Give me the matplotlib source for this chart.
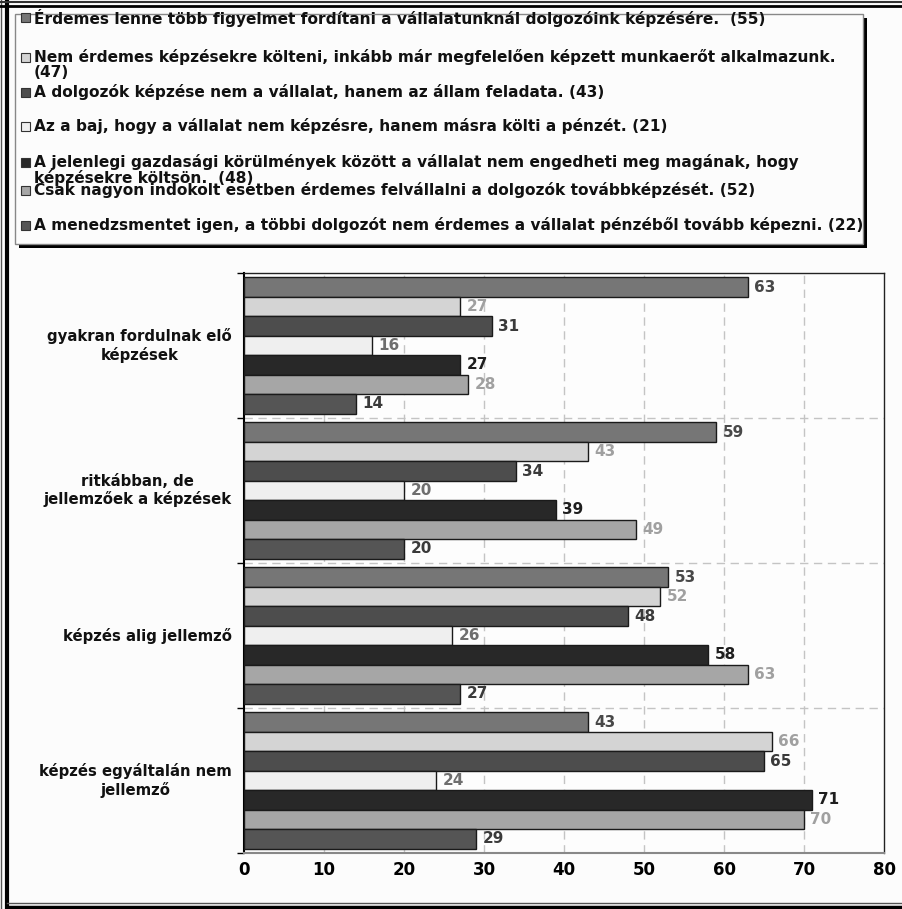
import numpy as np
import matplotlib.pyplot as plt
from matplotlib.patches import Rectangle
from matplotlib.lines import Line2D

# Data
categories = ["gyakran fordulnak elő\nképzések",
              "ritkábban, de\njellemzőek a képzések",
              "képzés alig jellemző",
              "képzés egyáltalán nem\njellemző"]
series_names = [
    "Érdemes lenne több figyelmet fordítani a vállalatunknál dolgozóink képzésére.  (55)",
    "Nem érdemes képzésekre költeni, inkább már megfelelően képzett munkaerőt alkalmazunk.\n(47)",
    "A dolgozók képzése nem a vállalat, hanem az állam feladata. (43)",
    "Az a baj, hogy a vállalat nem képzésre, hanem másra költi a pénzét. (21)",
    "A jelenlegi gazdasági körülmények között a vállalat nem engedheti meg magának, hogy\nképzésekre költsön.  (48)",
    "Csak nagyon indokolt esetben érdemes felvállalni a dolgozók továbbképzését. (52)",
    "A menedzsmentet igen, a többi dolgozót nem érdemes a vállalat pénzéből tovább képezni. (22)",
]
values = [
    [63, 59, 53, 43],
    [27, 43, 52, 66],
    [31, 34, 48, 65],
    [16, 20, 26, 24],
    [27, 39, 58, 71],
    [28, 49, 63, 70],
    [14, 20, 27, 29],
]
xticks = [0, 10, 20, 30, 40, 50, 60, 70, 80]

# Styles
bar_colors = ["#767676", "#d4d4d4", "#4d4d4d", "#efefef", "#282828", "#a6a6a6", "#555555"]
label_colors = ["#484848", "#a0a0a0", "#3a3a3a", "#6e6e6e", "#1e1e1e", "#a0a0a0", "#3a3a3a"]
legend_y = [18, 58, 93, 127, 163, 191, 226]  # pixel centres of first text line

W, H = 903, 909
fig = plt.figure(figsize=(W / 100, H / 100), dpi=100)
fig.patch.set_facecolor("#fcfcfc")

def fx(px):
    return px / W

def fy(py):
    return 1 - py / H

# outer double frame (left, top, bottom)
for x0, lw, c in [(1.5, 1, "#555555"), (7, 3, "black")]:
    fig.add_artist(Line2D([fx(x0), fx(x0)], [0, 1], lw=lw, color=c, transform=fig.transFigure))
for y0, lw, c in [(1.5, 1.5, "#333333"), (6, 2, "black")]:
    fig.add_artist(Line2D([0, 1], [fy(y0), fy(y0)], lw=lw, color=c, transform=fig.transFigure))
for y0, lw, c in [(903, 1, "#555555"), (907, 2.5, "black")]:
    fig.add_artist(Line2D([fx(7), 1], [fy(y0), fy(y0)], lw=lw, color=c, transform=fig.transFigure))

# legend box with shadow
fig.add_artist(Rectangle((fx(19), fy(248)), fx(867 - 19), (248 - 18) / H,
                         transform=fig.transFigure, facecolor="black", edgecolor="none"))
fig.add_artist(Rectangle((fx(15), fy(244)), fx(863 - 15), (244 - 14) / H,
                         transform=fig.transFigure, facecolor="#fcfcfc",
                         edgecolor="#888888", lw=1))
for i, name in enumerate(series_names):
    yc = legend_y[i]
    fig.add_artist(Rectangle((fx(21), fy(yc + 4)), fx(9), 9 / H, transform=fig.transFigure,
                             facecolor=bar_colors[i], edgecolor="#333333", lw=0.8))
    fig.text(fx(34), fy(yc - 9), name, ha="left", va="top", fontsize=11.1,
             fontweight="bold", color="#111111", linespacing=1.0)

# plot area
ax = fig.add_axes([fx(244), fy(853), fx(884 - 244), (853 - 273) / H])
ax.set_facecolor("#fdfdfd")

n = len(series_names)
y = np.arange(len(categories))
h = 0.134
for i in range(n):
    pos = y + (i - (n - 1) / 2) * h
    ax.barh(pos, values[i], height=h, color=bar_colors[i], edgecolor="#1a1a1a",
            linewidth=1, zorder=3)
    for p, v in zip(pos, values[i]):
        ax.text(v + 0.8, p, str(v), ha="left", va="center", fontsize=11,
                fontweight="bold", color=label_colors[i], zorder=4)

ax.set_xlim(0, 80)
ax.set_ylim(len(categories) - 0.5, -0.5)
ax.set_xticks(xticks)
ax.set_xticklabels([str(t) for t in xticks], fontsize=12, fontweight="bold")
ax.tick_params(axis="x", length=0, pad=6)
ax.set_yticks(np.arange(len(categories) + 1) - 0.5)
ax.set_yticklabels([])
ax.tick_params(axis="y", length=5, width=1, direction="out", color="black")
for xv in xticks[1:-1]:
    ax.axvline(xv, color="#c4c4c4", lw=1, ls=(0, (6, 4)), zorder=1)
for yb in np.arange(1, len(categories)) - 0.5:
    ax.axhline(yb, color="#c4c4c4", lw=1, ls=(0, (6, 4)), zorder=1)

for s in ["top", "right"]:
    ax.spines[s].set_color("#222222")
    ax.spines[s].set_linewidth(1)
ax.spines["left"].set_color("black")
ax.spines["left"].set_linewidth(1.5)
ax.spines["bottom"].set_color("#888888")
ax.spines["bottom"].set_linestyle((0, (2, 1)))
ax.spines["bottom"].set_linewidth(1.5)

for yi, cat in zip(y, categories):
    ax.text(-1.5, yi, cat, ha="right", va="center", multialignment="center",
            fontsize=10.7, fontweight="bold", color="#111111")

fig.savefig("out.png", dpi=100, facecolor=fig.get_facecolor())
